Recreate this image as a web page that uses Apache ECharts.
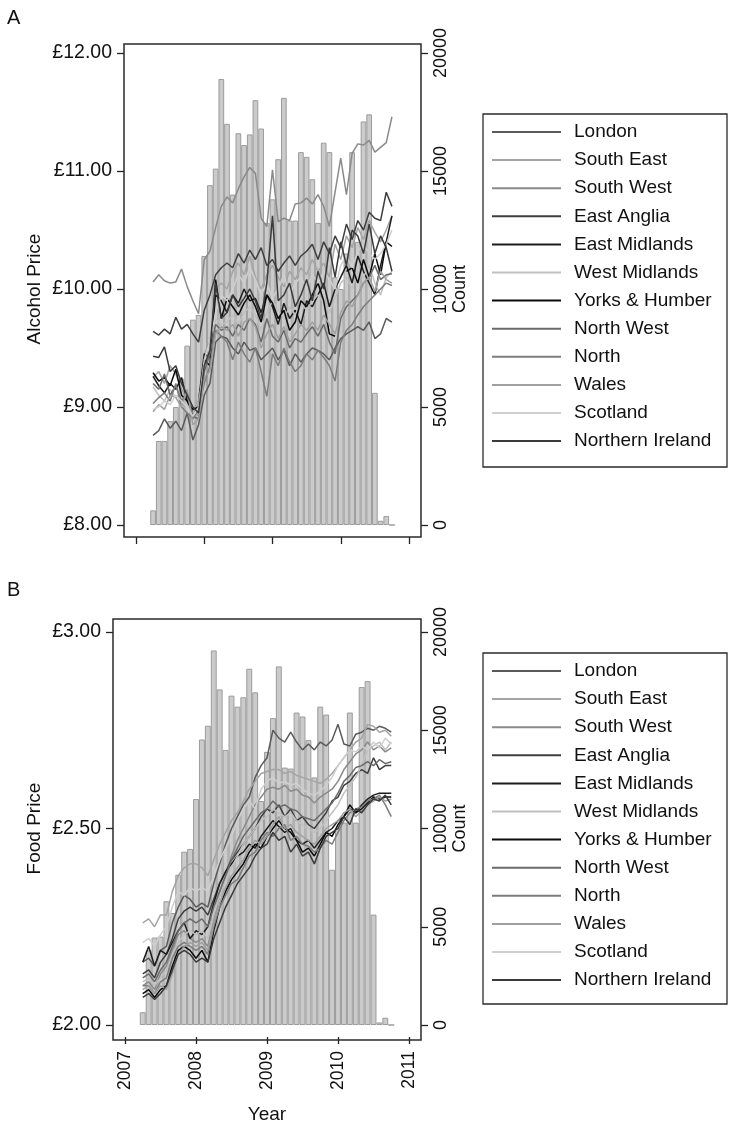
<!DOCTYPE html>
<html><head><meta charset="utf-8">
<script src="https://cdn.jsdelivr.net/npm/echarts@6/dist/echarts.min.js"></script>
<style>html,body{margin:0;padding:0;background:#fff;}#c{width:736px;height:1125px;}</style>
</head><body><div id="c"></div>
<script>
const months = ['2007-04','2007-05','2007-06','2007-07','2007-08','2007-09','2007-10','2007-11','2007-12',
'2008-01','2008-02','2008-03','2008-04','2008-05','2008-06','2008-07','2008-08','2008-09','2008-10','2008-11','2008-12',
'2009-01','2009-02','2009-03','2009-04','2009-05','2009-06','2009-07','2009-08','2009-09','2009-10','2009-11','2009-12',
'2010-01','2010-02','2010-03','2010-04','2010-05','2010-06','2010-07','2010-08','2010-09','2010-10'];
const regions = ['London','South East','South West','East Anglia','East Midlands','West Midlands','Yorks & Humber','North West','North','Wales','Scotland','Northern Ireland'];
const yearTicks = [2007, 2008, 2009, 2010, 2011];

const alcoholCount = [620,3560,3560,4400,5000,6200,7600,8700,8900,
11400,14400,15100,18900,17000,14000,16600,16100,16550,18000,16800,12800,
13800,15500,18100,12900,12900,15800,15600,14650,12800,16200,15800,10500,
10000,11500,15800,12000,17100,17400,5600,180,380,0];
const foodCount = [650,3800,4450,4500,6300,5700,7650,8820,8960,
11500,14530,15230,19060,17080,14000,16760,16200,16680,18130,16930,11400,
13900,15620,18250,13100,13050,15900,15700,14500,12600,16200,15800,7900,
10000,10300,15900,10300,17200,17500,5620,130,370,0];

const alcLondon = [8.76,8.80,8.90,8.82,8.88,8.80,8.95,8.72,8.85,
9.10,9.20,9.55,9.60,9.58,9.50,9.45,9.55,9.48,9.50,9.40,9.45,
9.50,9.40,9.48,9.35,9.45,9.38,9.45,9.50,9.48,9.45,9.40,9.50,
9.58,9.62,9.65,9.68,9.65,9.72,9.58,9.62,9.75,9.72];
const alcSouthEast = [9.25,9.30,9.20,9.35,9.28,9.15,9.08,9.00,8.92,
9.45,9.55,10.00,10.05,10.00,10.15,10.22,10.12,10.28,10.10,10.00,10.12,
10.20,10.10,10.02,10.15,10.08,10.18,10.12,10.25,10.15,10.22,10.10,10.38,
10.25,10.45,10.35,10.52,10.42,10.58,10.48,10.40,10.50,10.62];
const alcSouthWest = [10.06,10.12,10.07,10.05,10.06,10.17,10.02,9.90,9.79,
10.25,10.32,10.52,10.70,10.78,10.73,10.85,10.95,11.03,10.98,10.60,10.53,
11.01,10.57,10.60,10.58,10.72,10.73,10.77,10.72,10.80,10.70,10.53,10.82,
11.11,10.80,11.15,11.23,11.22,11.26,11.16,11.20,11.24,11.46];
const alcEastAnglia = [9.64,9.61,9.66,9.62,9.76,9.66,9.70,9.62,9.55,
9.82,9.95,10.12,10.18,10.22,10.18,10.30,10.22,10.33,10.25,10.35,10.20,
10.25,10.15,10.22,10.28,10.20,10.28,10.32,10.38,10.25,10.40,10.30,10.45,
10.35,10.55,10.42,10.58,10.50,10.65,10.60,10.58,10.82,10.70];
const alcEastMidlands = [9.26,9.18,9.12,9.20,9.15,9.25,9.05,8.95,9.05,
9.45,9.42,9.95,9.90,9.80,9.95,9.88,10.00,9.90,9.92,9.80,9.95,
9.85,9.70,9.88,9.75,9.82,9.70,9.90,9.85,9.95,10.05,9.85,10.00,
10.10,10.20,10.05,10.28,10.15,10.05,9.95,10.20,10.40,10.62];
const alcWestMidlands = [9.17,9.10,9.05,9.15,9.08,9.12,9.00,8.95,9.05,
9.30,9.50,9.75,9.70,9.72,9.78,9.70,9.80,9.85,9.78,9.65,9.80,
9.90,9.82,9.75,9.85,9.78,9.88,9.82,9.90,9.95,9.88,9.80,9.92,
10.05,10.10,10.00,10.15,10.10,10.20,10.05,9.95,10.10,10.15];
const alcYorksHumber = [9.29,9.22,9.25,9.18,9.32,9.10,9.05,8.98,9.00,
9.40,9.35,10.08,9.75,9.92,9.85,9.78,9.88,9.95,9.85,9.72,9.95,
9.88,9.75,9.82,9.65,9.72,9.90,9.85,9.95,10.05,9.90,9.62,9.60,
null,10.15,10.18,10.05,10.25,10.10,10.30,10.12,10.40,10.36];
const alcNorthWest = [9.20,9.15,9.28,9.10,9.18,9.05,9.12,8.92,8.90,
9.30,9.45,9.70,9.65,9.68,9.60,9.70,9.65,9.75,9.70,9.55,9.75,
9.60,9.55,9.65,9.50,9.58,9.55,9.62,9.68,9.60,9.70,9.55,9.45,
9.75,9.85,9.90,9.95,10.05,10.10,10.20,10.08,10.12,10.13];
const alcNorth = [9.03,9.08,9.12,9.05,9.20,9.00,8.95,8.90,8.98,
9.20,9.35,9.65,9.60,9.55,9.40,9.55,9.45,9.38,9.50,9.30,9.09,
9.45,9.35,9.50,9.38,9.30,9.35,9.45,9.40,9.48,9.42,9.35,9.22,
9.55,9.65,9.70,9.78,9.85,9.90,9.95,10.00,10.05,10.03];
const alcWales = [8.96,9.02,8.98,9.10,9.08,9.00,9.15,8.85,8.90,
9.25,9.30,9.62,9.68,9.65,9.70,9.60,9.72,9.75,9.68,9.50,9.62,
9.70,9.58,9.68,9.55,9.62,9.70,9.65,9.72,9.65,9.78,9.70,9.62,
9.80,9.90,9.85,9.95,10.05,10.10,9.98,10.15,10.08,10.05];
const alcScotland = [8.98,9.00,9.05,9.02,9.10,9.05,9.00,8.92,9.00,
9.40,9.55,9.80,9.95,9.90,10.00,10.12,10.05,10.18,10.08,9.95,10.05,
9.92,10.00,10.12,9.95,10.05,10.10,10.00,10.12,10.05,10.15,10.08,10.00,
10.20,10.28,10.18,10.32,10.38,10.30,10.25,10.30,10.38,10.50];
const alcNorthernIreland = [9.43,9.42,9.51,9.30,9.35,9.20,9.10,9.00,8.95,
9.35,9.48,10.05,9.75,9.80,9.95,9.85,9.92,10.00,9.90,9.75,10.05,
10.62,9.90,9.95,10.05,9.85,9.95,10.08,9.90,10.15,10.00,10.35,10.10,
10.40,10.20,10.50,10.45,10.30,10.55,10.30,10.45,10.35,10.15];

const foodLondon = [2.16,2.17,2.15,2.19,2.20,2.26,2.30,2.33,2.32,
2.30,2.31,2.30,2.36,2.41,2.46,2.50,2.53,2.56,2.58,2.63,2.66,
2.68,2.75,2.73,2.72,2.745,2.72,2.70,2.715,2.70,2.72,2.71,2.725,
2.765,2.715,2.71,2.74,2.745,2.755,2.75,2.76,2.755,2.745];
const foodSouthEast = [2.26,2.27,2.25,2.28,2.28,2.34,2.38,2.40,2.41,
2.41,2.40,2.38,2.42,2.46,2.49,2.52,2.54,2.57,2.60,2.62,2.64,
2.645,2.65,2.65,2.64,2.645,2.635,2.63,2.625,2.62,2.615,2.625,2.64,
2.66,2.68,2.70,2.72,2.73,2.765,2.76,2.745,2.75,2.735];
const foodSouthWest = [2.10,2.11,2.09,2.13,2.15,2.19,2.23,2.24,2.22,
2.21,2.22,2.20,2.27,2.33,2.38,2.43,2.47,2.50,2.53,2.56,2.58,
2.60,2.605,2.60,2.61,2.595,2.60,2.585,2.58,2.565,2.58,2.59,2.60,
2.62,2.65,2.67,2.69,2.70,2.72,2.70,2.71,2.695,2.705];
const foodEastAnglia = [2.13,2.14,2.12,2.16,2.18,2.22,2.27,2.29,2.30,
2.29,2.30,2.28,2.32,2.36,2.39,2.42,2.44,2.46,2.48,2.50,2.53,
2.55,2.54,2.56,2.53,2.55,2.52,2.53,2.51,2.50,2.52,2.54,2.57,
2.58,2.61,2.62,2.64,2.65,2.64,2.68,2.65,2.66,2.66];
const foodEastMidlands = [2.16,2.20,2.15,2.19,2.18,2.21,2.24,2.26,2.22,
2.24,2.23,2.25,2.31,2.36,2.39,2.41,2.43,2.44,2.46,2.45,2.48,
2.50,2.52,2.505,2.49,2.50,2.47,2.46,2.47,2.45,2.47,2.49,2.50,
2.52,2.53,2.55,2.54,2.56,2.575,2.585,2.59,2.59,2.59];
const foodWestMidlands = [2.11,2.12,2.10,2.12,2.14,2.18,2.21,2.23,2.24,
2.23,2.24,2.22,2.28,2.33,2.37,2.40,2.43,2.46,2.48,2.50,2.52,
2.53,2.55,2.54,2.53,2.54,2.52,2.51,2.50,2.49,2.50,2.52,2.54,
2.56,2.59,2.61,2.63,2.66,2.70,2.71,2.72,2.70,2.72];
const foodYorksHumber = [2.08,2.09,2.07,2.09,2.10,2.15,2.19,2.20,2.19,
2.17,2.19,2.16,2.24,2.30,2.34,2.37,2.39,2.41,2.44,2.46,2.45,
2.48,2.50,2.52,2.50,2.49,2.47,2.44,2.45,2.43,2.46,2.49,2.48,
2.51,2.53,2.56,2.54,2.55,2.565,2.58,2.575,2.58,2.58];
const foodNorthWest = [2.12,2.13,2.11,2.14,2.16,2.20,2.24,2.26,2.27,
2.26,2.27,2.25,2.30,2.34,2.38,2.42,2.45,2.48,2.50,2.52,2.54,
2.55,2.57,2.555,2.56,2.55,2.545,2.53,2.525,2.52,2.535,2.55,2.565,
2.59,2.62,2.635,2.655,2.66,2.67,2.66,2.675,2.665,2.67];
const foodNorth = [2.10,2.10,2.08,2.11,2.12,2.17,2.20,2.21,2.20,
2.19,2.20,2.18,2.25,2.30,2.33,2.36,2.37,2.40,2.43,2.44,2.47,
2.49,2.48,2.50,2.51,2.47,2.48,2.46,2.455,2.44,2.45,2.47,2.46,
2.49,2.52,2.54,2.55,2.555,2.57,2.575,2.585,2.56,2.53];
const foodWales = [2.09,2.10,2.08,2.10,2.09,2.13,2.18,2.20,2.21,
2.20,2.21,2.19,2.26,2.31,2.35,2.38,2.40,2.42,2.45,2.47,2.46,
2.48,2.51,2.53,2.50,2.51,2.49,2.48,2.47,2.46,2.48,2.50,2.51,
2.52,2.54,2.55,2.53,2.545,2.56,2.57,2.58,2.57,2.575];
const foodScotland = [2.21,2.22,2.20,2.23,2.25,2.30,2.34,2.33,2.35,
2.34,2.35,2.34,2.38,2.42,2.45,2.48,2.52,2.55,2.57,2.55,2.60,
2.62,2.63,2.615,2.62,2.61,2.615,2.60,2.59,2.585,2.595,2.61,2.63,
2.66,2.68,2.70,2.695,2.71,2.70,2.72,2.705,2.73,2.715];
const foodNorthernIreland = [2.07,2.08,2.065,2.08,2.10,2.14,2.18,2.19,2.18,
2.16,2.17,2.16,2.22,2.26,2.30,2.33,2.36,2.38,2.40,2.43,2.45,
2.46,2.49,2.47,2.48,2.44,2.46,2.43,2.44,2.41,2.45,2.48,2.49,
2.50,2.53,2.51,2.55,2.54,2.56,2.575,2.57,2.585,2.56];

const alcoholLines = [alcLondon,alcSouthEast,alcSouthWest,alcEastAnglia,alcEastMidlands,alcWestMidlands,alcYorksHumber,alcNorthWest,alcNorth,alcWales,alcScotland,alcNorthernIreland];
const foodLines = [foodLondon,foodSouthEast,foodSouthWest,foodEastAnglia,foodEastMidlands,foodWestMidlands,foodYorksHumber,foodNorthWest,foodNorth,foodWales,foodScotland,foodNorthernIreland];

// styling
const lineColors = ['#5a5a5a','#a4a4a4','#8a8a8a','#3e3e3e','#1c1c1c','#c0c0c0','#0a0a0a','#6a6a6a','#7c7c7c','#a0a0a0','#cfcfcf','#3a3a3a'];
const FONT = "'Liberation Sans', Arial, sans-serif";
const xs = months.map(s => { const p = s.split('-').map(Number); return p[0] + (p[1] - 1) / 12; });

const chart = echarts.init(document.getElementById('c'), null, {renderer: 'canvas'});

const grids = [
  {left: 136, top: 53, width: 273, height: 472},
  {left: 125, top: 632, width: 284, height: 396}
];
const boxes = [
  {x: 124, y: 44, w: 297, h: 493},
  {x: 113, y: 619, w: 308, h: 421}
];

function xAxisCfg(gi, showLabels) {
  return {
    type: 'value', gridIndex: gi, min: yearTicks[0], max: yearTicks[yearTicks.length - 1], interval: 1,
    offset: 12, position: 'bottom',
    axisLine: {show: false, onZero: false}, splitLine: {show: false},
    axisTick: {show: true, length: 7, lineStyle: {color: '#222', width: 1.3}},
    axisLabel: {show: showLabels, rotate: 90, margin: 14, fontSize: 17.5, color: '#111', fontFamily: FONT,
      formatter: v => String(v)},
    name: showLabels ? 'Year' : '', nameLocation: 'middle', nameGap: 68,
    nameTextStyle: {fontSize: 19, color: '#111', fontFamily: FONT}
  };
}
function priceAxis(gi, min, max, interval, title, gap) {
  return {
    type: 'value', gridIndex: gi, min: min, max: max, interval: interval, position: 'left', offset: 12,
    axisLine: {show: false, onZero: false}, splitLine: {show: false},
    axisTick: {show: true, length: 7, lineStyle: {color: '#222', width: 1.3}},
    axisLabel: {margin: 12, fontSize: 19.5, color: '#111', fontFamily: FONT, formatter: v => '£' + v.toFixed(2)},
    name: title, nameLocation: 'middle', nameRotate: 90, nameGap: gap,
    nameTextStyle: {fontSize: 19, color: '#111', fontFamily: FONT}
  };
}
function countAxis(gi) {
  return {
    type: 'value', gridIndex: gi, min: 0, max: 20000, interval: 5000, position: 'right', offset: 12,
    axisLine: {show: false, onZero: false}, splitLine: {show: false},
    axisTick: {show: true, length: 7, lineStyle: {color: '#222', width: 1.3}},
    axisLabel: {rotate: 90, margin: 11, fontSize: 18, color: '#111', fontFamily: FONT, formatter: v => String(v)},
    name: 'Count', nameLocation: 'middle', nameRotate: 90, nameGap: 29,
    nameTextStyle: {fontSize: 18, color: '#111', fontFamily: FONT}
  };
}

const series = [];
[[alcoholCount, 0, 5.69], [foodCount, 1, 5.92]].forEach(([counts, gi, bw]) => {
  series.push({
    type: 'bar', name: 'count' + gi, xAxisIndex: gi, yAxisIndex: gi * 2 + 1,
    data: xs.map((x, i) => [x, counts[i]]), barWidth: bw, barGap: '-100%',
    itemStyle: {color: '#cbcbcb', borderColor: '#9c9c9c', borderWidth: 1},
    z: 1, silent: true
  });
});
[[alcoholLines, 0], [foodLines, 1]].forEach(([lines, gi]) => {
  lines.forEach((arr, k) => {
    series.push({
      type: 'line', name: regions[k], xAxisIndex: gi, yAxisIndex: gi * 2,
      data: xs.map((x, i) => [x, arr[i]]), symbol: 'none', showSymbol: false,
      connectNulls: false, lineStyle: {color: lineColors[k], width: 1.5}, itemStyle: {color: lineColors[k]},
      z: 3, silent: true
    });
  });
});

function legendCfg(top) {
  return {
    data: regions, orient: 'vertical', left: 492, top: top, icon: 'rect', itemWidth: 69, itemHeight: 2, itemGap: 8.1,
    selectedMode: false, padding: 0,
    textStyle: {fontSize: 19, lineHeight: 20, color: '#111', fontFamily: FONT, padding: [0, 0, 0, 8]}
  };
}

const graphics = [];
boxes.forEach(b => graphics.push({type: 'rect', shape: {x: b.x, y: b.y, width: b.w, height: b.h},
  style: {fill: null, stroke: '#2a2a2a', lineWidth: 1.5}, z: 10, silent: true}));
[{x: 483, y: 114, w: 244, h: 353}, {x: 483, y: 653, w: 244, h: 351}].forEach(b => graphics.push({type: 'rect',
  shape: {x: b.x, y: b.y, width: b.w, height: b.h}, style: {fill: null, stroke: '#2a2a2a', lineWidth: 1.3}, z: 10, silent: true}));
graphics.push({type: 'text', left: 7, top: 8, style: {text: 'A', fontSize: 20, fill: '#111', fontFamily: FONT}});
graphics.push({type: 'text', left: 7, top: 580, style: {text: 'B', fontSize: 20, fill: '#111', fontFamily: FONT}});

chart.setOption({
  animation: false,
  backgroundColor: '#fff',
  grid: grids,
  xAxis: [xAxisCfg(0, false), xAxisCfg(1, true)],
  yAxis: [priceAxis(0, 8, 12, 1, 'Alcohol Price', 80), countAxis(0), priceAxis(1, 2, 3, 0.5, 'Food Price', 69), countAxis(1)],
  legend: [legendCfg(122), legendCfg(661)],
  graphic: graphics,
  series: series
});
</script>
</body></html>
